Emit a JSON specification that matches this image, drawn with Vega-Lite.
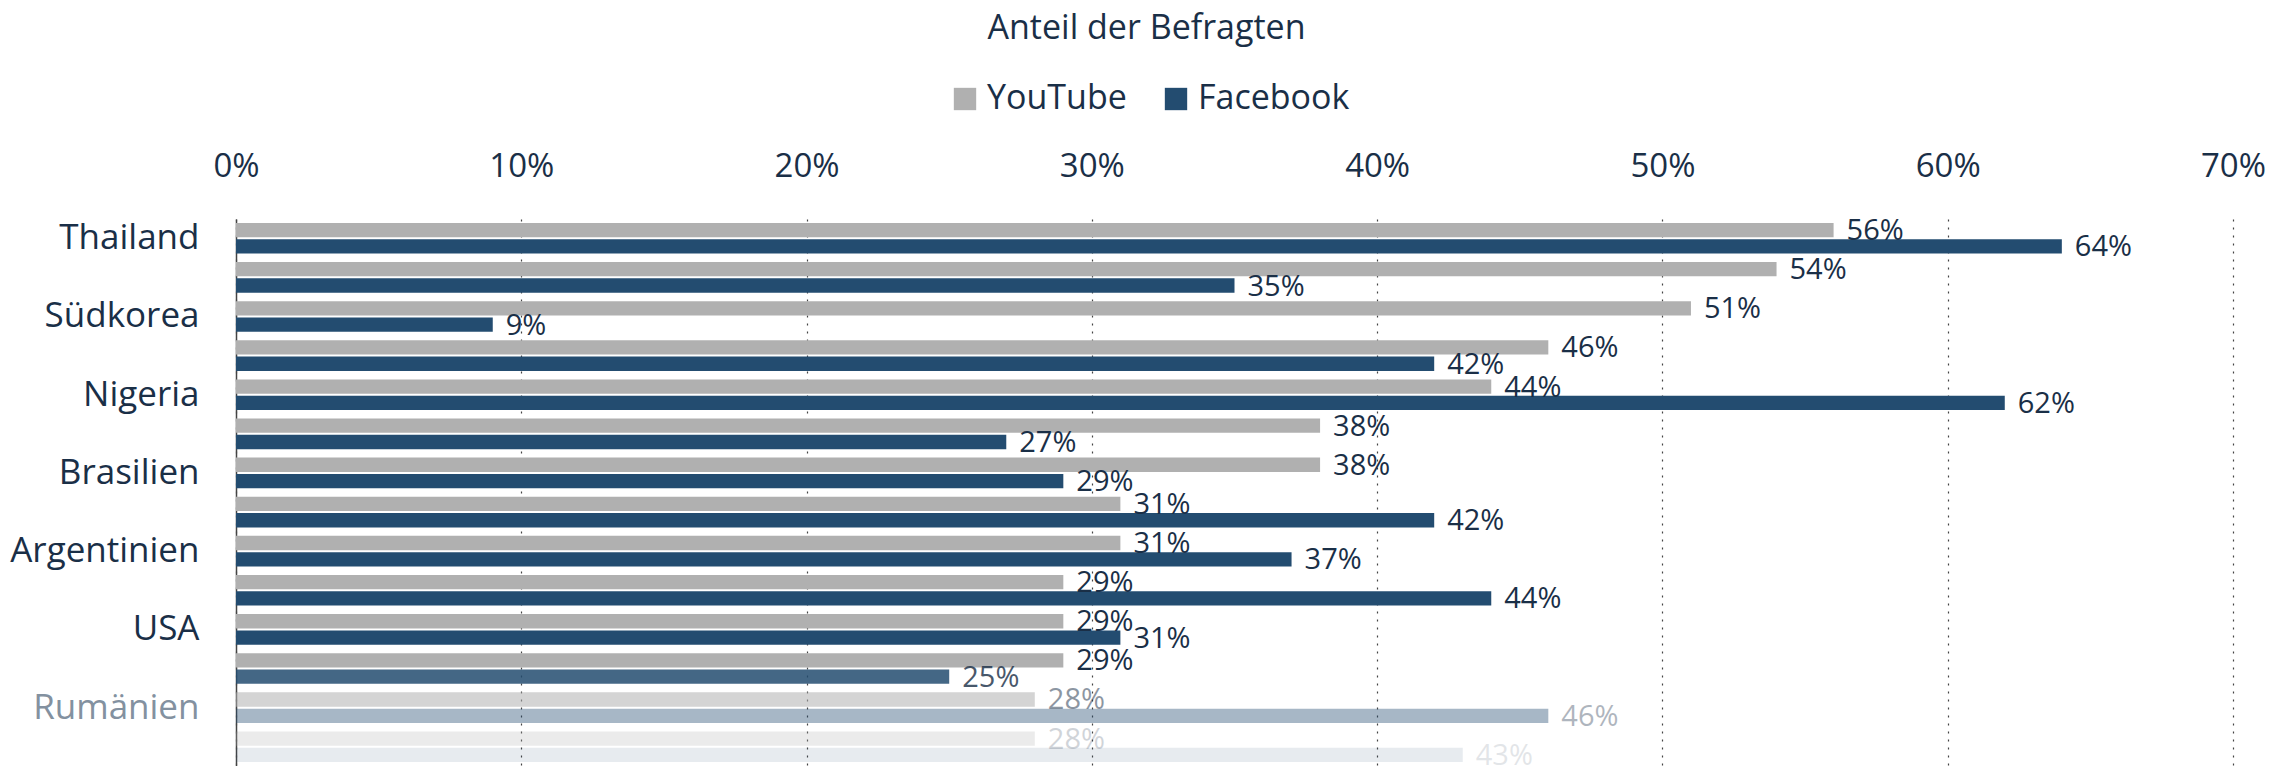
{
  "$schema": "https://vega.github.io/schema/vega-lite/v6.json",
  "width": 1997,
  "height": 547,
  "autosize": {"type": "none"},
  "padding": {"left": 236, "top": 219, "right": 62, "bottom": 0},
  "background": "white",
  "title": {
    "text": "Anteil der Befragten",
    "anchor": "middle",
    "frame": "group",
    "dx": -88,
    "offset": 36,
    "font": "Open Sans",
    "fontSize": 34,
    "fontWeight": "normal",
    "color": "#1a2f47"
  },
  "config": {
    "view": {"stroke": null},
    "font": "Open Sans",
    "text": {"font": "Open Sans"}
  },
  "data": {
    "values": [
      {"country": "Thailand", "platform": "YouTube", "value": 0.56},
      {"country": "Thailand", "platform": "Facebook", "value": 0.64},
      {"country": "Indien", "platform": "YouTube", "value": 0.54},
      {"country": "Indien", "platform": "Facebook", "value": 0.35},
      {"country": "Südkorea", "platform": "YouTube", "value": 0.51},
      {"country": "Südkorea", "platform": "Facebook", "value": 0.09},
      {"country": "Türkei", "platform": "YouTube", "value": 0.46},
      {"country": "Türkei", "platform": "Facebook", "value": 0.42},
      {"country": "Nigeria", "platform": "YouTube", "value": 0.44},
      {"country": "Nigeria", "platform": "Facebook", "value": 0.62},
      {"country": "Taiwan", "platform": "YouTube", "value": 0.38},
      {"country": "Taiwan", "platform": "Facebook", "value": 0.27},
      {"country": "Brasilien", "platform": "YouTube", "value": 0.38},
      {"country": "Brasilien", "platform": "Facebook", "value": 0.29},
      {"country": "Mexiko", "platform": "YouTube", "value": 0.31},
      {"country": "Mexiko", "platform": "Facebook", "value": 0.42},
      {"country": "Argentinien", "platform": "YouTube", "value": 0.31},
      {"country": "Argentinien", "platform": "Facebook", "value": 0.37},
      {"country": "Chile", "platform": "YouTube", "value": 0.29},
      {"country": "Chile", "platform": "Facebook", "value": 0.44},
      {"country": "USA", "platform": "YouTube", "value": 0.29},
      {"country": "USA", "platform": "Facebook", "value": 0.31},
      {"country": "Spanien", "platform": "YouTube", "value": 0.29},
      {"country": "Spanien", "platform": "Facebook", "value": 0.25},
      {"country": "Rumänien", "platform": "YouTube", "value": 0.28},
      {"country": "Rumänien", "platform": "Facebook", "value": 0.46},
      {"country": "Ungarn", "platform": "YouTube", "value": 0.28},
      {"country": "Ungarn", "platform": "Facebook", "value": 0.43}
    ]
  },
  "encoding": {
    "y": {
      "field": "country",
      "type": "nominal",
      "sort": null,
      "scale": {"paddingInner": 0.216, "paddingOuter": 0.1},
      "axis": {
        "title": null,
        "ticks": false,
        "tickSize": 0,
        "domain": true,
        "domainColor": "#444444",
        "domainWidth": 1.5,
        "grid": false,
        "labelFont": "Open Sans",
        "labelFontSize": 35,
        "labelPadding": 37,
        "labelLimit": 400,
        "labelExpr": "round(datum.index * 13) % 2 === 0 ? datum.label : ''",
        "labelColor": {"condition": {"test": "datum.value === 'Rumänien'", "value": "#8391a0"}, "value": "#1a2f47"}
      }
    },
    "yOffset": {
      "field": "platform",
      "type": "nominal",
      "sort": ["YouTube", "Facebook"],
      "scale": {"paddingInner": 0.123, "paddingOuter": 0}
    },
    "x": {
      "field": "value",
      "type": "quantitative",
      "scale": {"domain": [0, 0.7], "nice": false, "zero": true},
      "axis": {
        "orient": "top",
        "title": null,
        "format": ".0%",
        "values": [0, 0.1, 0.2, 0.3, 0.4, 0.5, 0.6, 0.7],
        "ticks": false,
        "tickSize": 0,
        "domain": false,
        "grid": true,
        "gridDash": [2, 6],
        "gridColor": "#444444",
        "gridWidth": 1.2,
        "labelFlush": false,
        "labelFont": "Open Sans",
        "labelFontSize": 33,
        "labelPadding": 36,
        "labelColor": "#1a2f47"
      }
    }
  },
  "layer": [
    {
      "mark": {"type": "bar"},
      "encoding": {
        "color": {
          "field": "platform",
          "type": "nominal",
          "sort": ["YouTube", "Facebook"],
          "scale": {"domain": ["YouTube", "Facebook"], "range": ["#b0b0b0", "#234c70"]},
          "legend": {
            "title": null,
            "orient": "none",
            "direction": "horizontal",
            "legendX": 712,
            "legendY": -137,
            "padding": 0,
            "symbolType": "square",
            "symbolSize": 500,
            "symbolStrokeWidth": 0,
            "symbolOpacity": 1,
            "labelFont": "Open Sans",
            "labelFontSize": 34,
            "labelColor": "#1a2f47",
            "labelOffset": 5,
            "columnPadding": 32
          }
        },
        "opacity": {
          "condition": [
            {"test": "datum.country === 'Spanien' && datum.platform === 'Facebook'", "value": 0.85},
            {"test": "datum.country === 'Rumänien' && datum.platform === 'YouTube'", "value": 0.55},
            {"test": "datum.country === 'Rumänien' && datum.platform === 'Facebook'", "value": 0.4},
            {"test": "datum.country === 'Ungarn' && datum.platform === 'YouTube'", "value": 0.25},
            {"test": "datum.country === 'Ungarn' && datum.platform === 'Facebook'", "value": 0.11}
          ],
          "value": 1
        }
      }
    },
    {
      "mark": {"type": "text", "align": "left", "baseline": "middle", "dx": 13, "dy": 1, "fontSize": 29, "font": "Open Sans", "color": "#1a2f47"},
      "encoding": {
        "text": {"field": "value", "type": "quantitative", "format": ".0%"},
        "opacity": {
          "condition": [
            {"test": "datum.country === 'Spanien' && datum.platform === 'Facebook'", "value": 0.8},
            {"test": "datum.country === 'Rumänien' && datum.platform === 'YouTube'", "value": 0.5},
            {"test": "datum.country === 'Rumänien' && datum.platform === 'Facebook'", "value": 0.35},
            {"test": "datum.country === 'Ungarn' && datum.platform === 'YouTube'", "value": 0.2},
            {"test": "datum.country === 'Ungarn' && datum.platform === 'Facebook'", "value": 0.12}
          ],
          "value": 1
        }
      }
    }
  ]
}
